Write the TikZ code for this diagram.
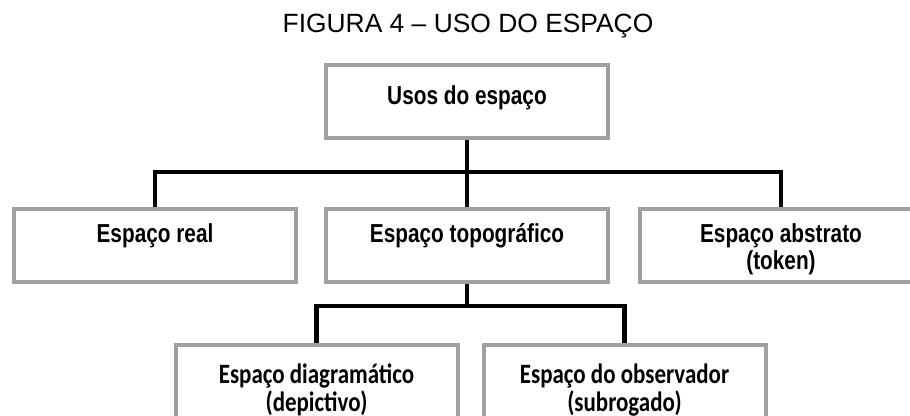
\documentclass[tikz,border=0pt]{standalone}
\usepackage{fontspec}
\setmainfont{Liberation Sans}
\newfontfamily\narrowfont{Liberation Sans}[FakeStretch=0.8]
\newfontfamily\calfont{Carlito}[FakeStretch=0.82]
\definecolor{boxgray}{HTML}{A0A0A0}
\tikzset{
  caixa/.style={draw=boxgray,line width=2pt,fill=white,inner sep=0pt,
    minimum width=141pt,minimum height=36.5pt,align=center,
    text height=10pt,text depth=12.5pt,
    font=\narrowfont\bfseries\fontsize{13}{13.5}\selectfont},
  duaslinhas/.style={text height=26pt,text depth=1.5pt},
  caixab/.style={caixa,minimum height=44pt,text height=24pt,text depth=1pt,
    font=\calfont\bfseries\fontsize{14}{14}\selectfont},
  linha/.style={line width=2.2pt}
}
\begin{document}
\begin{tikzpicture}[x=0.5pt,y=-0.5pt]
  \useasboundingbox (0,0) rectangle (910,416);
  \node[font=\fontsize{13.2}{15}\selectfont,anchor=base] (titulo) at (468,33) {FIGURA 4 – USO DO ESPAÇO};
  % caixas
  \node[caixa,text height=9pt,text depth=5.5pt] (usos) at (467,101.5) {Usos do espaço};
  \node[caixa] (real) at (155,245.5) {Espaço real};
  \node[caixa] (topo) at (467,245.5) {Espaço topográfico};
  \node[caixa,duaslinhas] (abstrato) at (781,245.5) {Espaço abstrato\\(token)};
  \node[caixab] (diagram) at (316.5,389) {Espaço diagramático\\(depictivo)};
  \node[caixab] (observ) at (624.5,389) {Espaço do observador\\(subrogado)};
  % ligacoes
  \coordinate (bus1) at (0,172);
  \coordinate (bus2) at (0,306);
  \draw[linha] (usos.south) -- (usos.south |- bus1);
  \draw[linha] (real.north) |- (abstrato.north |- bus1) -- (abstrato.north);
  \draw[linha] (topo.north |- bus1) -- (topo.north);
  \draw[linha] (topo.south) -- (topo.south |- bus2);
  \draw[linha] (diagram.north) |- (observ.north |- bus2) -- (observ.north);
\end{tikzpicture}
\end{document}
